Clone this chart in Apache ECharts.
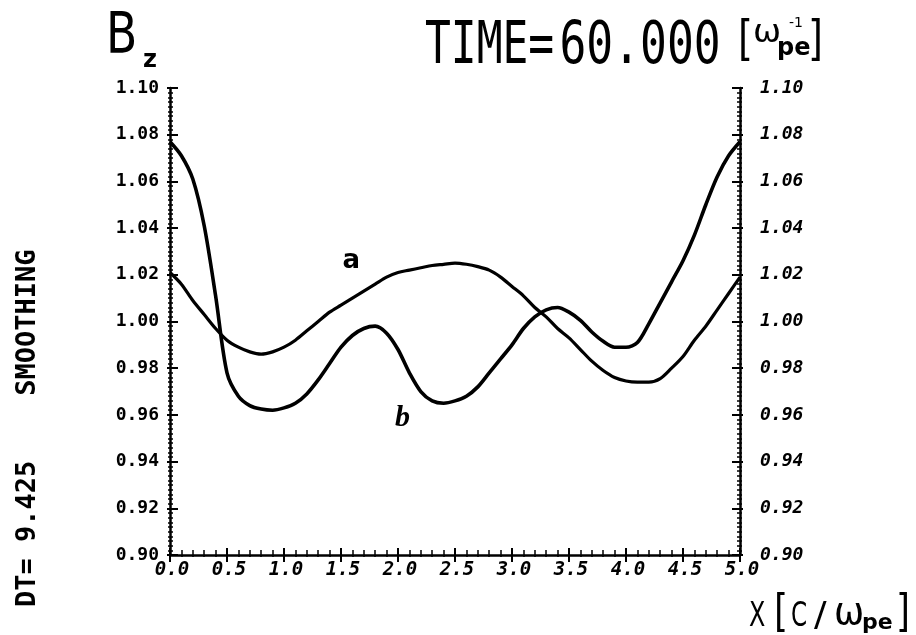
<!DOCTYPE html>
<html>
<head>
<meta charset="utf-8">
<script src="https://cdn.jsdelivr.net/npm/echarts@6/dist/echarts.min.js"></script>
<style>
  html, body { margin: 0; padding: 0; background: #fff; }
  #main { width: 916px; height: 635px; }
</style>
</head>
<body>
<div id="main"></div>
<script>
// x positions [c/ω_pe]
var xPos = [0.0, 0.1, 0.2, 0.3, 0.4, 0.5, 0.6, 0.7, 0.8, 0.9,
            1.0, 1.1, 1.2, 1.3, 1.4, 1.5, 1.6, 1.7, 1.8, 1.9,
            2.0, 2.1, 2.2, 2.3, 2.4, 2.5, 2.6, 2.7, 2.8, 2.9,
            3.0, 3.1, 3.2, 3.3, 3.4, 3.5, 3.6, 3.7, 3.8, 3.9,
            4.0, 4.1, 4.2, 4.3, 4.4, 4.5, 4.6, 4.7, 4.8, 4.9, 5.0];

// curve a (starts at 1.02)
var curveA = [1.021, 1.016, 1.009, 1.003, 0.997, 0.992, 0.989, 0.987, 0.986, 0.987,
              0.989, 0.992, 0.996, 1.000, 1.004, 1.007, 1.010, 1.013, 1.016, 1.019,
              1.021, 1.022, 1.023, 1.024, 1.0245, 1.025, 1.0245, 1.0235, 1.022, 1.019,
              1.015, 1.011, 1.006, 1.002, 0.997, 0.993, 0.988, 0.983, 0.979, 0.976,
              0.9745, 0.974, 0.974, 0.9755, 0.980, 0.985, 0.992, 0.998, 1.005, 1.012, 1.019];

// curve b (starts at 1.077)
var curveB = [1.077, 1.071, 1.061, 1.041, 1.011, 0.978, 0.968, 0.964, 0.9625, 0.962,
              0.963, 0.965, 0.969, 0.975, 0.982, 0.989, 0.994, 0.997, 0.998, 0.995,
              0.988, 0.978, 0.970, 0.966, 0.965, 0.966, 0.968, 0.972, 0.978, 0.984,
              0.990, 0.997, 1.002, 1.005, 1.006, 1.004, 1.0005, 0.9955, 0.9915, 0.989,
              0.989, 0.991, 0.999, 1.008, 1.017, 1.026, 1.037, 1.050, 1.062, 1.071, 1.077];

var yMin = 0.90, yMax = 1.10, yStep = 0.02;
var xMin = 0, xMax = 5, xStep = 0.5;

function pairs(ys) {
    return xPos.map(function (x, i) { return [x, ys[i]]; });
}

var chart = echarts.init(document.getElementById('main'));

var tickFont = 'DejaVu Sans Mono';
var lineCol = '#000';

function yAx(pos, inside, withLabel) {
    return {
        type: 'value', position: pos, min: yMin, max: yMax, interval: yStep,
        axisLine: { show: withLabel, lineStyle: { color: lineCol, width: 2.5 } },
        axisTick: { show: true, inside: inside, length: inside ? 8 : 3, lineStyle: { color: lineCol, width: 2 } },
        minorTick: { show: true, splitNumber: 10, length: inside ? 3 : 2, lineStyle: { color: lineCol, width: 1.5 } },
        splitLine: { show: false },
        axisLabel: {
            show: withLabel,
            color: '#000', fontFamily: tickFont, fontSize: 18, fontWeight: 'bold',
            fontStyle: pos === 'right' ? 'italic' : 'normal',
            margin: pos === 'right' ? 20 : 11,
            padding: [0, 0, 8, 0],
            formatter: function (v) { return v.toFixed(2); }
        }
    };
}

function xAx(inside, withLabel) {
    return {
        type: 'value', position: 'bottom', min: xMin, max: xMax, interval: xStep,
        axisLine: { show: withLabel, lineStyle: { color: lineCol, width: 2.5 } },
        axisTick: { show: true, inside: inside, length: 7, lineStyle: { color: lineCol, width: 2 } },
        minorTick: { show: true, splitNumber: 5, length: inside ? 5 : 2, lineStyle: { color: lineCol, width: 1.5 } },
        splitLine: { show: false },
        axisLabel: {
            show: withLabel,
            color: '#000', fontFamily: tickFont, fontSize: 19, fontStyle: 'italic', fontWeight: 'bold',
            margin: 6, padding: [0, 0, 0, 4],
            formatter: function (v) { return v.toFixed(1); }
        }
    };
}

var option = {
    backgroundColor: '#fff',
    animation: false,
    grid: { left: 170, right: 176, top: 88, bottom: 80, containLabel: false },
    xAxis: [xAx(true, true), xAx(false, false)],
    yAxis: [yAx('left', true, true), yAx('left', false, false), yAx('right', true, true), yAx('right', false, false)],
    series: [
        {
            name: 'a', type: 'line', xAxisIndex: 0, yAxisIndex: 0,
            data: pairs(curveA), showSymbol: false, smooth: 0.3,
            lineStyle: { color: '#000', width: 3.2 }
        },
        {
            name: 'b', type: 'line', xAxisIndex: 0, yAxisIndex: 0,
            data: pairs(curveB), showSymbol: false, smooth: 0.3,
            lineStyle: { color: '#000', width: 3.6 }
        }
    ]
};
chart.setOption(option);

// curve labels placed in data coordinates
var posA = chart.convertToPixel({ gridIndex: 0 }, [1.59, 1.026]);
var posB = chart.convertToPixel({ gridIndex: 0 }, [2.04, 0.9585]);

var big = 'DejaVu Sans';
function txt(x, y, s, size, opts) {
    opts = opts || {};
    return {
        type: 'text', x: x, y: y, scaleX: opts.sx || 1, scaleY: opts.sy || 1, rotation: opts.rot || 0,
        style: {
            text: s, fill: '#000', fontFamily: opts.family || big, fontSize: size,
            fontWeight: opts.weight || 'normal', fontStyle: opts.style || 'normal',
            textAlign: opts.align || 'left', textVerticalAlign: opts.valign || 'top'
        }
    };
}

chart.setOption({
    graphic: [
        // B_z
        txt(106, 10, 'B', 57, { sx: 0.8 }),
        txt(143, 49, 'z', 24, { weight: 'bold' }),
        // TIME=60.000 [ω_pe^-1]
        txt(425, 19, 'TIME=', 58, { family: 'DejaVu Sans Mono', sx: 0.74 }),
        txt(425 + 5 * 0.602 * 58 * 0.77, 19, '60.000', 58, { family: 'DejaVu Sans Mono', sx: 0.77 }),
        txt(738, 19, '[', 48, { sx: 0.8 }),
        txt(753, 18, 'ω', 32, { sx: 1.05 }),
        txt(789, 16, '-1', 14),
        txt(777, 37, 'pe', 24, { weight: 'bold' }),
        txt(808, 19, ']', 48, { sx: 0.8 }),
        // X [C/ω_pe]
        txt(749, 600, 'X', 34, { sx: 0.7 }),
        txt(774, 592, '[', 45, { sx: 0.8 }),
        txt(791, 600, 'C', 34, { sx: 0.68 }),
        txt(814, 600, '/', 34, { sx: 1.1 }),
        txt(834, 595, 'ω', 38, { sx: 0.95 }),
        txt(862, 612, 'pe', 22, { weight: 'bold' }),
        txt(896, 592, ']', 45, { sx: 0.8 }),
        // side annotation
        txt(28, 607, 'DT= 9.425    SMOOTHING', 27, { family: 'DejaVu Sans Mono', weight: 'bold', rot: Math.PI / 2, valign: 'middle' }),
        // curve labels
        txt(posA[0], posA[1], 'a', 26, { weight: 'bold', align: 'center', valign: 'middle' }),
        txt(posB[0], posB[1], 'b', 30, { family: 'Liberation Serif', weight: 'bold', style: 'italic', align: 'center', valign: 'middle' })
    ]
});
</script>
</body>
</html>
